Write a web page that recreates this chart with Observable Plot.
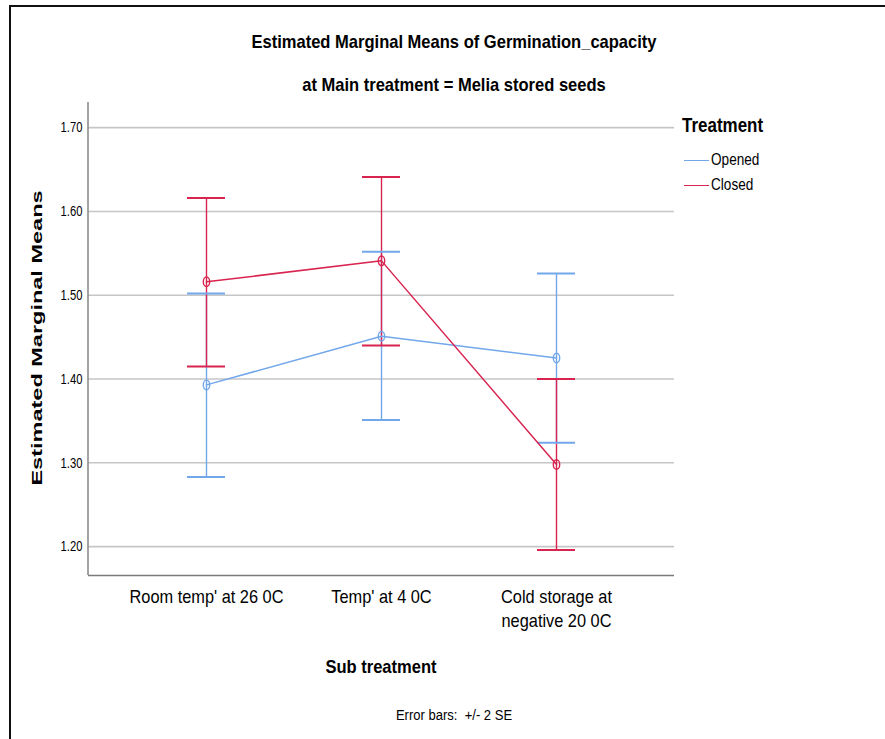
<!DOCTYPE html>
<html>
<head>
<meta charset="utf-8">
<script src="https://cdn.jsdelivr.net/npm/d3@7"></script>
<script src="https://cdn.jsdelivr.net/npm/@observablehq/plot@0.6"></script>
<style>
  html, body { margin: 0; padding: 0; background: #fff; }
  #wrap { position: relative; width: 885px; height: 739px; overflow: hidden; background: #fff; }
  #frame { position: absolute; left: 9px; top: 5px; width: 900px; height: 800px; border-left: 2px solid #111; border-top: 2px solid #111; }
  .t { font-family: "Liberation Sans", Arial, sans-serif; color: #000; position: absolute; white-space: nowrap; }
  .b { font-weight: bold; }
  #chart { position: absolute; left: 0; top: 95px; }
  #ylab { position: absolute; left: 37px; top: 338px; font-family: "Liberation Sans", Arial, sans-serif; font-weight: bold; font-size: 23.5px; white-space: nowrap; transform: translate(-50%, -50%) rotate(-90deg) scaleY(0.66); }
  .leg { position: absolute; height: 0; border-top: 1.6px solid; width: 25px; }
</style>
</head>
<body>
<div id="wrap">
  <div id="frame"></div>
  <div class="t b" style="left:454px; top:42px; font-size:19px; transform: translate(-50%,-50%) scaleX(0.87);">Estimated Marginal Means of Germination_capacity</div>
  <div class="t b" style="left:454px; top:85px; font-size:19px; transform: translate(-50%,-50%) scaleX(0.87);">at Main treatment = Melia stored seeds</div>
  <div id="chart"></div>
  <div id="ylab">Estimated Marginal Means</div>
  <div class="t b" style="left:682px; top:125px; font-size:19.5px; transform-origin: 0 50%; transform: translateY(-50%) scaleX(0.87);">Treatment</div>
  <div class="leg" id="leg0" style="left:684px; top:160px;"></div>
  <div class="t" id="legt0" style="left:711px; top:160px; font-size:17px; transform-origin: 0 50%; transform: translateY(-50%) scaleX(0.8);"></div>
  <div class="leg" id="leg1" style="left:684px; top:185px;"></div>
  <div class="t" id="legt1" style="left:711px; top:185px; font-size:17px; transform-origin: 0 50%; transform: translateY(-50%) scaleX(0.8);"></div>
  <div class="t b" style="left:381px; top:667px; font-size:19px; transform: translate(-50%,-50%) scaleX(0.87);">Sub treatment</div>
  <div class="t" style="left:454px; top:715px; font-size:15.5px; transform: translate(-50%,-50%) scaleX(0.84);">Error bars: &nbsp;+/- 2 SE</div>
</div>
<script>
// ---- data ----
const categories = ["Room temp' at 26 0C", "Temp' at 4 0C", "Cold storage at\nnegative 20 0C"];
const seriesNames = ["Opened", "Closed"];
const seriesColors = ["#72a7ea", "#d8244f"];
const openedMean  = [1.393, 1.451, 1.425];
const openedLower = [1.283, 1.351, 1.324];
const openedUpper = [1.502, 1.552, 1.526];
const closedMean  = [1.516, 1.541, 1.298];
const closedLower = [1.415, 1.440, 1.196];
const closedUpper = [1.616, 1.641, 1.400];
const yTicks = [1.2, 1.3, 1.4, 1.5, 1.6, 1.7];
const yDomain = [1.1655, 1.73];

// ---- table ----
const rows = [];
[[openedMean, openedLower, openedUpper], [closedMean, closedLower, closedUpper]].forEach((s, si) => {
  categories.forEach((c, i) => rows.push({series: seriesNames[si], cat: c, mean: s[0][i], lo: s[1][i], hi: s[2][i]}));
});

// hollow ellipse symbol
const ellipse = {
  draw(ctx, size) {
    const rx = 3.2, ry = 4.8, k = 0.5523;
    ctx.moveTo(rx, 0);
    ctx.bezierCurveTo(rx, ry * k, rx * k, ry, 0, ry);
    ctx.bezierCurveTo(-rx * k, ry, -rx, ry * k, -rx, 0);
    ctx.bezierCurveTo(-rx, -ry * k, -rx * k, -ry, 0, -ry);
    ctx.bezierCurveTo(rx * k, -ry, rx, -ry * k, rx, 0);
    ctx.closePath();
  }
};

// left axis line drawn from the plot's own frame dimensions
function leftAxisLine(index, scales, values, dims) {
  const l = document.createElementNS("http://www.w3.org/2000/svg", "line");
  l.setAttribute("x1", dims.marginLeft); l.setAttribute("x2", dims.marginLeft);
  l.setAttribute("y1", dims.marginTop); l.setAttribute("y2", dims.height - dims.marginBottom);
  l.setAttribute("stroke", "#8c8c8c"); l.setAttribute("stroke-width", "1.6");
  return l;
}

const font = '"Liberation Sans", Arial, sans-serif';
const chart = Plot.plot({
  width: 885,
  height: 644,
  marginLeft: 88,
  marginRight: 211,
  marginTop: 7,
  marginBottom: 164,
  style: {fontFamily: font, color: "#000", background: "transparent"},
  x: {type: "band", domain: categories, paddingInner: 0.784, paddingOuter: 0.557, label: null},
  y: {domain: yDomain, label: null},
  color: {domain: seriesNames, range: seriesColors},
  marks: [
    Plot.gridY(yTicks, {stroke: "#c6c6c6", strokeOpacity: 1, strokeWidth: 1.6}),
    Plot.axisY(yTicks, {tickSize: 0, tickPadding: 6, tickFormat: d3.format(".2f"), fontSize: 15, label: null}),
    leftAxisLine,
    Plot.ruleY([yDomain[0]], {stroke: "#7a7a7a", strokeWidth: 1.6}),
    Plot.axisX({tickSize: 0, tickPadding: 10, fontSize: 18.8, label: null, lineHeight: 1.28}),
    Plot.ruleX(rows, {x: "cat", y1: "lo", y2: "hi", stroke: "series", strokeWidth: 1.4}),
    Plot.tickY(rows, {x: "cat", y: "lo", stroke: "series", strokeWidth: 2}),
    Plot.tickY(rows, {x: "cat", y: "hi", stroke: "series", strokeWidth: 2}),
    Plot.line(rows, {x: "cat", y: "mean", stroke: "series", z: "series", strokeWidth: 1.5}),
    Plot.dot(rows, {x: "cat", y: "mean", stroke: "series", symbol: () => ellipse, r: 4, strokeWidth: 1.4, fill: "none"})
  ]
});
document.getElementById("chart").appendChild(chart);

// condense axis tick labels horizontally, like the reference's narrow type
chart.querySelectorAll('g[aria-label="y-axis tick label"] text, g[aria-label="x-axis tick label"] text').forEach(t => {
  const tr = t.getAttribute("transform") || "";
  const sx = t.closest('g[aria-label="y-axis tick label"]') ? 0.75 : 0.87;
  t.setAttribute("transform", tr + ` scale(${sx},1)`);
});

// legend from the same arrays
seriesNames.forEach((n, i) => {
  document.getElementById("leg" + i).style.borderColor = seriesColors[i];
  document.getElementById("legt" + i).textContent = n;
});
</script>
</body>
</html>
